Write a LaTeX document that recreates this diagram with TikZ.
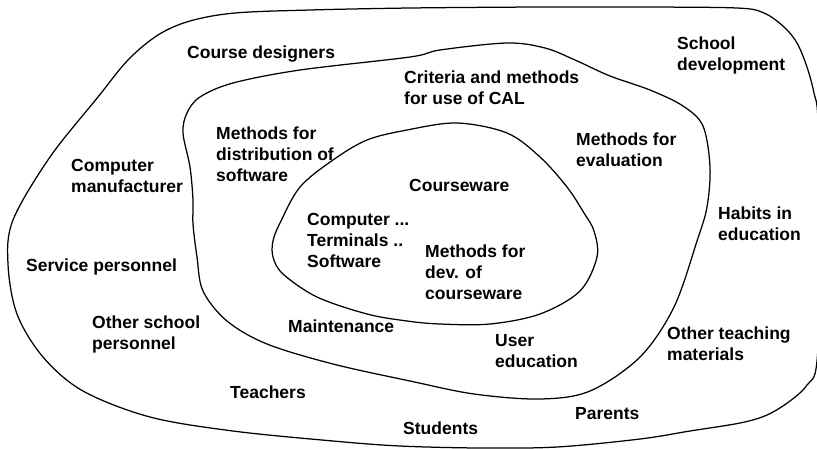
\documentclass[tikz,border=0pt]{standalone}
\usepackage{fontspec}
\setmainfont{Liberation Sans}
\begin{document}
\begin{tikzpicture}[x=1pt,y=-1pt,
  ring/.style={draw=black,line width=1.25pt},
  % multi-line labels are anchored at the baseline of their last line
  lbl/.style={anchor=base west,inner sep=0pt,align=left,
    font=\bfseries\fontsize{17.5}{21}\selectfont}]
\useasboundingbox[fill=white] (0,0) rectangle (817,448);

% outer ring
\draw[ring] plot[smooth cycle,tension=0.55] coordinates {
  (410,8) (540,7) (640,7) (737,8) (764,13) (784,27) (797,43) (807,67)
  (814,93) (818,120) (821,240) (817,361) (807,385) (790,401) (767,415)
  (740,423) (690,431) (640,439) (557,447) (480,448) (400,446) (333,441)
  (233,431) (150,417) (83,391) (43,357) (17,314) (8,264) (13,220)
  (50,157) (98,97) (128,60) (158,35) (190,21) (235,13) (310,10)};

% middle ring
\draw[ring] plot[smooth cycle,tension=0.55] coordinates {
  (187,113) (200,97) (233,83) (300,70) (410,57) (440,50) (507,43)
  (545,48) (575,60) (610,76) (650,90) (683,106) (703,126) (710,167)
  (707,207) (697,241) (674,307) (640,357) (590,391) (540,399) (474,394)
  (410,381) (333,364) (267,344) (227,321) (203,291) (197,257) (193,224)
  (193,200) (190,167) (183,133)};

% inner ring
\draw[ring] plot[smooth cycle,tension=0.55] coordinates {
  (407,130) (457,123) (507,133) (540,157) (567,187) (584,213) (594,231)
  (597,257) (580,291) (540,314) (490,324) (440,324) (407,321) (367,314)
  (317,297) (283,274) (273,257) (273,241) (280,223) (300,187) (333,160)
  (367,140)};

% labels
\node[lbl] (designers) at (187,58) {Course designers};
\node[lbl] (schooldev) at (677,70) {School\\development};
\node[lbl] (criteria) at (404,104) {Criteria and methods\\for use of CAL};
\node[lbl] (distrib) at (216,181) {Methods for\\distribution of\\software};
\node[lbl] (manuf) at (71,192) {Computer\\manufacturer};
\node[lbl] (evaluation) at (576,166) {Methods for\\evaluation};
\node[lbl] (courseware) at (409,191) {Courseware};
\node[lbl] (hardware) at (307,267) {Computer ...\\Terminals ..\\Software};
\node[lbl] (devmethods) at (425,299) {Methods for\\dev. of\\courseware};
\node[lbl] (habits) at (718,240) {Habits in\\education};
\node[lbl] (service) at (26,271) {Service personnel};
\node[lbl] (otherstaff) at (92,349) {Other school\\personnel};
\node[lbl] (maint) at (288,332) {Maintenance};
\node[lbl] (usered) at (495,367) {User\\education};
\node[lbl] (materials) at (667,360) {Other teaching\\materials};
\node[lbl] (teachers) at (230,398) {Teachers};
\node[lbl] (parents) at (575,419) {Parents};
\node[lbl] (students) at (403,434) {Students};
\end{tikzpicture}
\end{document}
